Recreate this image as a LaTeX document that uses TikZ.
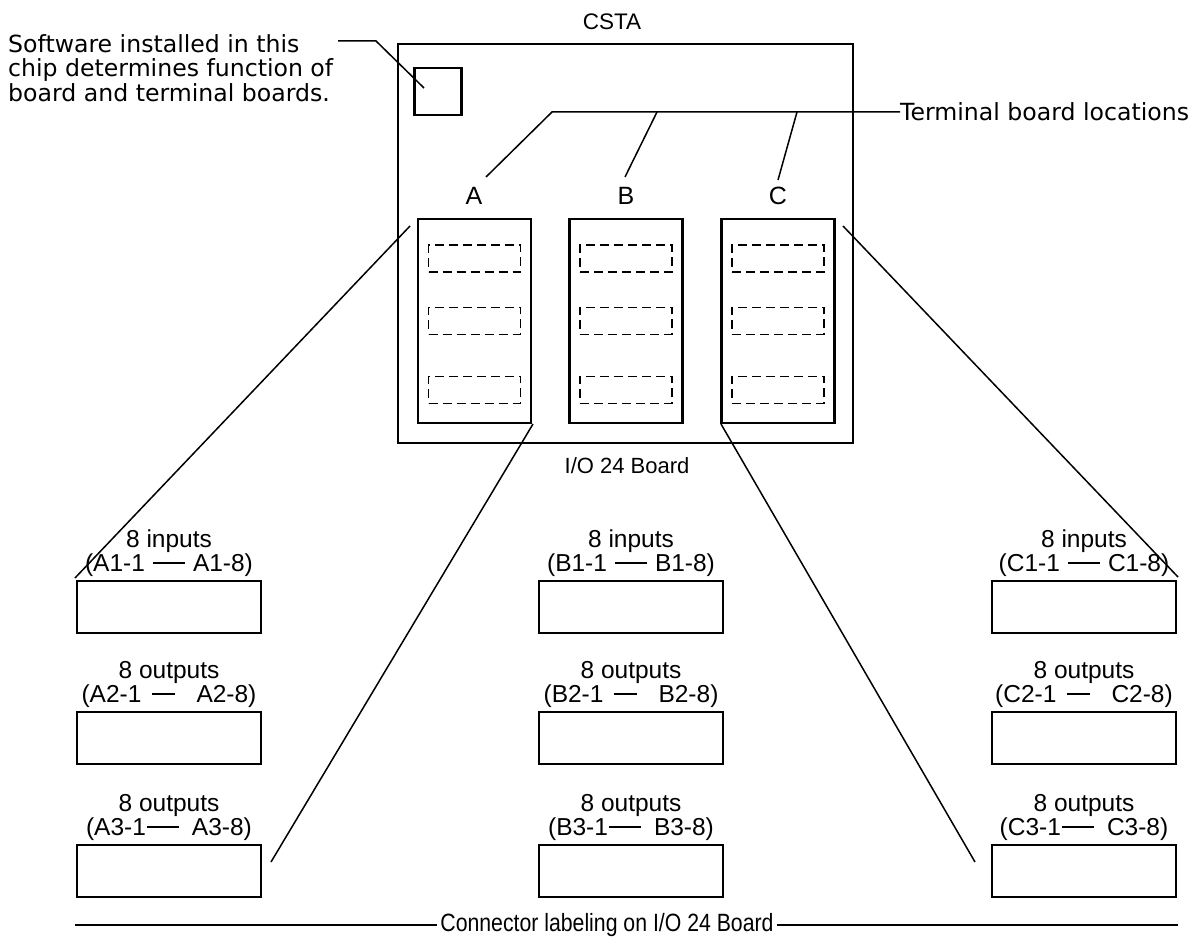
\documentclass[tikz,border=0pt]{standalone}
\usepackage{fontspec}
\setmainfont{Liberation Sans}
\newfontfamily\notefont{DejaVu Sans}
\newfontfamily\narrowfont[FakeStretch=0.85]{Liberation Sans}
\usetikzlibrary{positioning}

% dash between first and last connector pin
\newcommand{\pinlink}[3]{\hspace{#1}\rule[7.5pt]{#2}{1.8pt}\hspace{#3}}

\tikzset{
  board/.style={draw, line width=2.5pt, minimum width=113pt, minimum height=204pt, inner sep=0pt},
  slot/.style={draw, line width=1.8pt, dash pattern=on 9pt off 5pt, minimum width=92pt, minimum height=27pt, inner sep=0pt},
  connbox/.style={draw, line width=2pt, minimum width=184pt, minimum height=52pt, inner sep=0pt},
  lbl/.style={font=\fontsize{24.5}{22}\selectfont, align=center, inner sep=0pt},
  note/.style={font=\notefont\fontsize{23.6}{24.5}\selectfont, align=left, inner sep=0pt},
  leader/.style={line width=1.5pt},
}

\begin{document}
\begin{tikzpicture}[x=1pt, y=-1pt]
  \useasboundingbox (0,0) rectangle (1197,949);

  % I/O board with chip and terminal board locations
  \node[font=\fontsize{22.5}{22}\selectfont] (csta) at (612,22) {CSTA};
  \node[draw, line width=2.5pt, minimum width=455pt, minimum height=399pt, inner sep=0pt] (io) at (625.5,243.5) {};
  \node[draw, line width=2.5pt, minimum size=47pt, inner sep=0pt] (chip) at (438,91.5) {};
  \node[font=\fontsize{22}{22}\selectfont] (iolbl) at (627,466) {I/O 24 Board};

  \node[board] (tbA) at (474.5,321) {};
  \node[board] (tbB) at (626,321) {};
  \node[board] (tbC) at (778,321) {};
  \foreach \b in {A,B,C} {
    \node[slot] (\b s1) at ([yshift=62.5pt]tb\b.center) {};
    \node[slot] (\b s2) at (tb\b.center) {};
    \node[slot] (\b s3) at ([yshift=-69pt]tb\b.center) {};
  }
  \node[font=\fontsize{25}{25}\selectfont] (lA) at (474,196) {A};
  \node[font=\fontsize{25}{25}\selectfont] (lB) at (626,196) {B};
  \node[font=\fontsize{25}{25}\selectfont] (lC) at (778,196) {C};

  % notes
  \node[note, anchor=north west] (sw) at (8,34) {Software installed in this\\chip determines function of\\board and terminal boards.};
  \coordinate (sw1) at (338,41);
  \coordinate (sw2) at (376,41);
  \coordinate (sw3) at (424,88);
  \draw[leader] (sw1) -- (sw2) -- (sw3);

  \node[note, anchor=west] (tbl) at (900,112) {Terminal board locations};
  \coordinate (tk) at (552,112);
  \coordinate (tkA) at (486,177);
  \coordinate (tkB1) at (657,112);
  \coordinate (tkB) at (625,177);
  \coordinate (tkC1) at (797,112);
  \coordinate (tkC) at (778,180);
  \draw[leader] (tkA) -- (tk) -- (tbl.west);
  \draw[leader] (tkB) -- (tkB1);
  \draw[leader] (tkC) -- (tkC1);

  % connectors on the I/O board
  \node[connbox] (cA1) at (169,607) {};
  \node[connbox] (cA2) at (169,738) {};
  \node[connbox] (cA3) at (169,871) {};
  \node[connbox] (cB1) at (631,607) {};
  \node[connbox] (cB2) at (631,738) {};
  \node[connbox] (cB3) at (631,871) {};
  \node[connbox] (cC1) at (1084,607) {};
  \node[connbox] (cC2) at (1084,738) {};
  \node[connbox] (cC3) at (1084,871) {};

  \node[lbl, above=3pt of cA1] (tA1) {8 inputs\\(A1-1\pinlink{8pt}{32pt}{8pt}A1-8)};
  \node[lbl, above=3pt of cA2] (tA2) {8 outputs\\(A2-1\pinlink{10pt}{23pt}{22pt}A2-8)};
  \node[lbl, above=3pt of cA3] (tA3) {8 outputs\\(A3-1\pinlink{1pt}{32pt}{13pt}A3-8)};
  \node[lbl, above=3pt of cB1] (tB1) {8 inputs\\(B1-1\pinlink{8pt}{32pt}{8pt}B1-8)};
  \node[lbl, above=3pt of cB2] (tB2) {8 outputs\\(B2-1\pinlink{10pt}{23pt}{22pt}B2-8)};
  \node[lbl, above=3pt of cB3] (tB3) {8 outputs\\(B3-1\pinlink{1pt}{32pt}{13pt}B3-8)};
  \node[lbl, above=3pt of cC1] (tC1) {8 inputs\\(C1-1\pinlink{8pt}{32pt}{8pt}C1-8)};
  \node[lbl, above=3pt of cC2] (tC2) {8 outputs\\(C2-1\pinlink{10pt}{23pt}{22pt}C2-8)};
  \node[lbl, above=3pt of cC3] (tC3) {8 outputs\\(C3-1\pinlink{1pt}{32pt}{13pt}C3-8)};

  % lines from terminal boards to connector groups
  \coordinate (pA1) at (410,226);
  \coordinate (qA1) at (75,578);
  \coordinate (pA2) at (533,424);
  \coordinate (qA2) at (271,862);
  \coordinate (pC1) at (843,226);
  \coordinate (qC1) at (1178,577);
  \coordinate (pC2) at (721,424);
  \coordinate (qC2) at (975,862);
  \draw[leader] (pA1) -- (qA1);
  \draw[leader] (pA2) -- (qA2);
  \draw[leader] (pC1) -- (qC1);
  \draw[leader] (pC2) -- (qC2);

  % bottom caption
  \node[font=\narrowfont\fontsize{25}{25}\selectfont, inner sep=3pt] (cap) at (607,925) {Connector labeling on I/O 24 Board};
  \coordinate (capL) at (75,925);
  \coordinate (capR) at (1178,925);
  \draw[line width=2pt] (capL) -- (cap.west);
  \draw[line width=2pt] (cap.east) -- (capR);
\end{tikzpicture}
\end{document}
